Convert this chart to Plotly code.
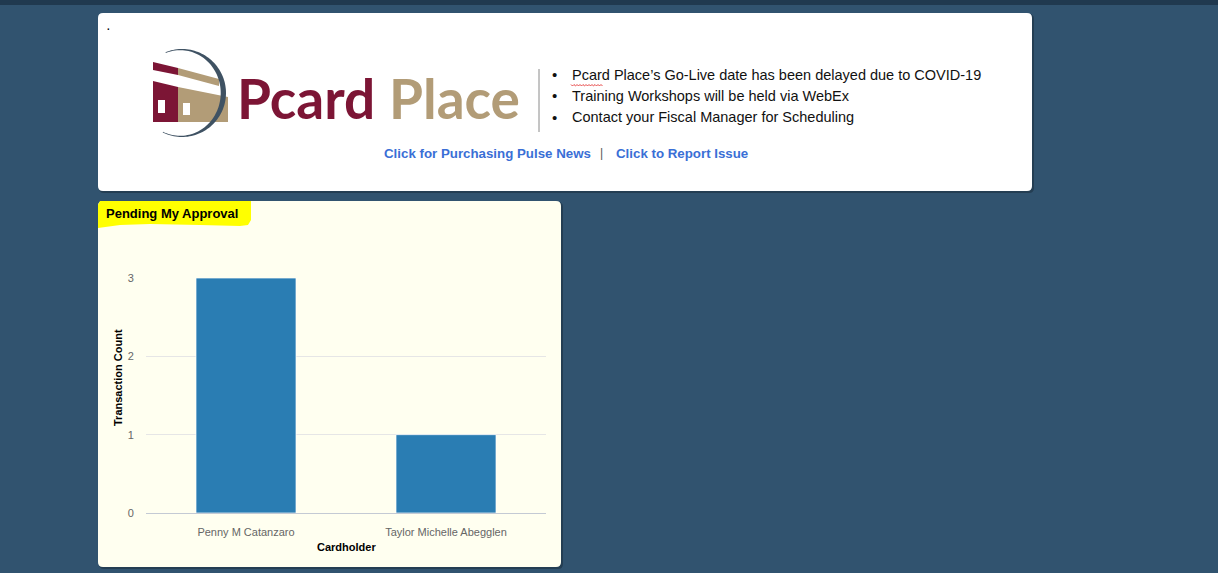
import numpy as np
import plotly.graph_objects as go

W, H = 1218, 573

# ---- data ----
cardholders = ["Penny M Catanzaro", "Taylor Michelle Abegglen"]
transaction_counts = [3, 1]
y_ticks = [0, 1, 2, 3]
chart_title = "Pending My Approval"
x_title = "Cardholder"
y_title = "Transaction Count"
bullets = [
    "Pcard Place\u2019s Go-Live date has been delayed due to COVID-19",
    "Training Workshops will be held via WebEx",
    "Contact your Fiscal Manager for Scheduling",
]
links = ["Click for Purchasing Pulse News", "Click to Report Issue"]

BG = "#31536f"


def X(px):
    return px / W


def Y(py):
    return 1 - py / H


def poly(points, close=True):
    s = "M " + " L ".join(f"{X(x):.5f},{Y(y):.5f}" for x, y in points)
    return s + (" Z" if close else "")


def rrect(x0, y0, x1, y1, r):
    def p(x, y):
        return f"{X(x):.5f},{Y(y):.5f}"
    return (f"M {p(x0 + r, y0)} L {p(x1 - r, y0)} Q {p(x1, y0)} {p(x1, y0 + r)} "
            f"L {p(x1, y1 - r)} Q {p(x1, y1)} {p(x1 - r, y1)} L {p(x0 + r, y1)} "
            f"Q {p(x0, y1)} {p(x0, y1 - r)} L {p(x0, y0 + r)} Q {p(x0, y0)} {p(x0 + r, y0)} Z")


shapes = []


def add_path(path, fill, line=None, lw=0, layer="below"):
    shapes.append(dict(type="path", xref="paper", yref="paper", path=path,
                       fillcolor=fill, line=dict(color=line or "rgba(0,0,0,0)", width=lw),
                       layer=layer))


# dark strip on top
add_path(poly([(0, 0), (W, 0), (W, 5), (0, 5)]), "#20394f")
# card shadows
add_path(rrect(99, 14, 1034, 193, 5), "rgba(0,0,0,0.25)")
add_path(rrect(99, 202, 563, 569, 5), "rgba(0,0,0,0.25)")
# cards
add_path(rrect(98, 13, 1032, 191, 5), "#ffffff")
add_path(rrect(98, 201, 561, 567, 5), "#fffff0")
# yellow highlight behind the title
add_path("M " + " L ".join(f"{X(x):.5f},{Y(y):.5f}" for x, y in
                           [(98, 205), (100, 201), (251, 201), (251, 220), (248, 225),
                            (240, 226), (200, 225), (150, 224), (120, 225), (98, 228)]) + " Z",
         "#ffff00")

# ---- logo ----
MAROON = "#7c1535"
TAN = "#b29c77"
ARC = "#3f5263"
# stripe
add_path(poly([(153, 62), (178, 68), (178, 75), (153, 70)]), MAROON)
add_path(poly([(178, 68), (219, 79), (219, 86), (178, 75)]), TAN)
# body
add_path(poly([(153, 81), (178, 87), (178, 122), (153, 122)]), MAROON)
add_path(poly([(178, 87), (228, 97), (228, 122), (178, 122)]), TAN)
# windows
add_path(poly([(158, 100), (165, 100), (165, 113), (158, 113)]), "#ffffff")
add_path(poly([(183, 103), (190, 103), (190, 115), (183, 115)]), "#ffffff")
# arc (crescent)
cx, cy, R = 182, 93, 44
th = np.linspace(np.radians(-112), np.radians(116), 90)
thick = 0.8 + 4.5 * np.cos((th - np.radians(0)) * 0.8) ** 2
outer = [(cx + R * np.cos(t), cy + R * np.sin(t)) for t in th]
inner = [(cx + (R - k) * np.cos(t), cy + (R - k) * np.sin(t)) for t, k in zip(th[::-1], thick[::-1])]
add_path(poly(outer + inner), ARC)

# divider
shapes.append(dict(type="line", xref="paper", yref="paper", x0=X(539), x1=X(539),
                   y0=Y(69), y1=Y(132), line=dict(color="#8a8a8a", width=1), layer="below"))
# spell-check squiggle under "Pcard"
zz = [(571 + i * 1.5, 84.5 + (i % 2) * 1.5) for i in range(22)]
shapes.append(dict(type="path", xref="paper", yref="paper", path=poly(zz, close=False),
                   line=dict(color="#e02020", width=0.8), layer="above"))

annotations = []


def note(x, y, text, size, color, family="Liberation Sans, Arial, sans-serif", xanchor="left",
         weight="normal", angle=0):
    annotations.append(dict(xref="paper", yref="paper", x=X(x), y=Y(y), text=text,
                            showarrow=False, xanchor=xanchor, yanchor="middle", textangle=angle,
                            font=dict(size=size, color=color, family=family, weight=weight)))


note(104, 28, "\u00b7", 14, "#000000")
note(235, 98, "Pcard", 55, MAROON, family="Lato, sans-serif", weight="bold")
note(387, 98, "Place", 55, TAN, family="Lato, sans-serif", weight="bold")
for i, b in enumerate(bullets):
    yy = 75 + 21 * i
    note(550, yy, "\u2022", 15, "#111111")
    note(570, yy, b, 14.5, "#111111")
note(382, 153, links[0], 13.3, "#3a6fd6", weight="bold")
note(601, 153, "|", 12, "#555555", xanchor="center")
note(614, 153, links[1], 13.3, "#3a6fd6", weight="bold")
note(104, 213, chart_title, 13, "#000000", weight="bold")
note(346, 547, x_title, 11, "#000000", xanchor="center", weight="bold")
note(118, 378, y_title, 11, "#000000", xanchor="center", weight="bold", angle=-90)

fig = go.Figure(go.Bar(
    x=cardholders, y=transaction_counts, width=0.5,
    marker=dict(color="#2a7db3", line=dict(color="rgba(255,255,255,0.7)", width=1)),
    hoverinfo="x+y",
))

fig.update_layout(
    width=W, height=H, margin=dict(l=0, r=0, t=0, b=0, autoexpand=False),
    paper_bgcolor=BG, plot_bgcolor="rgba(0,0,0,0)",
    showlegend=False, shapes=shapes, annotations=annotations,
    font=dict(family="Liberation Sans, Arial, sans-serif"),
    xaxis=dict(domain=[X(146), X(546)], range=[-0.5, 1.5], showgrid=False,
               showline=True, linecolor="#c4cad4", linewidth=1, zeroline=False,
               ticks="outside", ticklen=9, tickcolor="rgba(0,0,0,0)",
               tickfont=dict(size=11, color="#666666"), fixedrange=True),
    yaxis=dict(domain=[Y(513), Y(278)], range=[0, 3], tickvals=y_ticks,
               showgrid=True, gridcolor="#e6e6e6", gridwidth=1, zeroline=False,
               showline=False, ticks="outside", ticklen=9, tickcolor="rgba(0,0,0,0)",
               tickfont=dict(size=11, color="#666666"), fixedrange=True),
)

fig.write_html("out.html", config={"displayModeBar": False},
               post_script="document.body.style.margin='0';document.body.style.overflow='hidden';")
